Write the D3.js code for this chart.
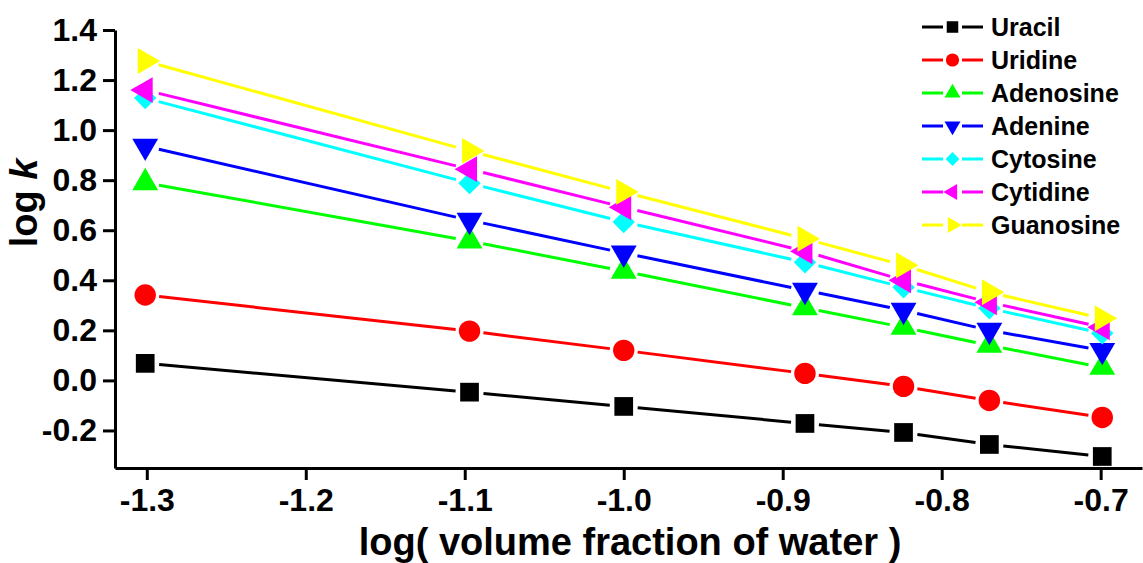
<!DOCTYPE html>
<html>
<head>
<meta charset="UTF-8">
<script src="https://cdn.jsdelivr.net/npm/d3@7/dist/d3.min.js"></script>
<style>
body { margin: 0; background: #fff; }
text { font-family: "Liberation Sans", Arial, sans-serif; font-weight: bold; fill: #000; }
</style>
</head>
<body>
<script>

// log(volume fraction of water): 0.05, 0.08, 0.10, 0.13, 0.15, 0.17, 0.20
var xvals = [-1.301, -1.097, -1.0, -0.886, -0.824, -0.770, -0.699];

var names = ["Uracil", "Uridine", "Adenosine", "Adenine", "Cytosine", "Cytidine", "Guanosine"];
var colors = ["#000000", "#ff0000", "#00ff00", "#0000ff", "#00ffff", "#ff00ff", "#ffff00"];

var uracil    = [0.068, -0.047, -0.104, -0.172, -0.208, -0.256, -0.304];
var uridine   = [0.341, 0.197, 0.120, 0.028, -0.024, -0.080, -0.148];
var adenosine = [0.790, 0.557, 0.436, 0.290, 0.212, 0.140, 0.052];
var adenine   = [0.936, 0.640, 0.509, 0.360, 0.280, 0.200, 0.120];
var cytosine  = [1.128, 0.788, 0.633, 0.472, 0.372, 0.288, 0.188];
var cytidine  = [1.160, 0.844, 0.692, 0.516, 0.400, 0.312, 0.212];
var guanosine = [1.276, 0.917, 0.753, 0.566, 0.460, 0.352, 0.248];

var series = [uracil, uridine, adenosine, adenine, cytosine, cytidine, guanosine];

var xticks = [-1.3, -1.2, -1.1, -1.0, -0.9, -0.8, -0.7];
var yticks = [-0.2, 0.0, 0.2, 0.4, 0.6, 0.8, 1.0, 1.2, 1.4];

var width = 1143, height = 563;

var svg = d3.select("body").append("svg")
    .attr("width", width)
    .attr("height", height);

var x = d3.scaleLinear().domain([-1.32, -0.674]).range([115, 1142]);
var y = d3.scaleLinear().domain([-0.35, 1.4]).range([468, 30]);

// marker shapes: [symbol type, rotation, size]
var shapes = [
    [d3.symbolSquare, 0, 350],
    [d3.symbolCircle, 0, 360],
    [d3.symbolTriangle, 0, 290],
    [d3.symbolTriangle, 180, 290],
    [d3.symbolSquare, 45, 250],
    [d3.symbolTriangle, -90, 290],
    [d3.symbolTriangle, 90, 290]
];

// axes
var xminor = d3.range(-1.3, -0.68, 0.05);
var yminor = d3.range(-0.3, 1.41, 0.1);
var fmt = function(d) { return d3.format(".1f")(d).replace("\u2212", "-"); };

var gx = svg.append("g").attr("transform", "translate(0," + y.range()[0] + ")");
gx.call(d3.axisBottom(x).tickValues(xminor).tickSize(7).tickSizeOuter(0).tickFormat(""));
gx.call(d3.axisBottom(x).tickValues(xticks).tickSize(12).tickSizeOuter(0).tickFormat(fmt));

var gy = svg.append("g").attr("transform", "translate(" + x.range()[0] + ",0)");
gy.call(d3.axisLeft(y).tickValues(yminor).tickSize(7).tickSizeOuter(0).tickFormat(""));
gy.call(d3.axisLeft(y).tickValues(yticks).tickSize(12).tickSizeOuter(0).tickFormat(fmt));

svg.selectAll(".domain").attr("stroke", "#000").attr("stroke-width", 3);
svg.selectAll(".tick line").attr("stroke", "#000").attr("stroke-width", 3);
svg.selectAll(".tick text")
    .style("font-size", "32px")
    .style("font-family", "'Liberation Sans', Arial, sans-serif")
    .style("font-weight", "bold")
    .attr("fill", "#000");
gx.selectAll(".tick text").attr("dy", "0.87em");
gy.selectAll(".tick text").attr("x", -18);

// series lines with gaps near markers
var gap = 14;
series.forEach(function(vals, s) {
    var g = svg.append("g");
    for (var i = 0; i < vals.length - 1; i++) {
        var x1 = x(xvals[i]), y1 = y(vals[i]), x2 = x(xvals[i + 1]), y2 = y(vals[i + 1]);
        var len = Math.hypot(x2 - x1, y2 - y1);
        var ux = (x2 - x1) / len, uy = (y2 - y1) / len;
        g.append("line")
            .attr("x1", x1 + ux * gap).attr("y1", y1 + uy * gap)
            .attr("x2", x2 - ux * gap).attr("y2", y2 - uy * gap)
            .attr("stroke", colors[s])
            .attr("stroke-width", 3);
    }
    var sh = shapes[s];
    g.selectAll("path.mk")
        .data(vals)
        .enter().append("path")
        .attr("class", "mk")
        .attr("d", d3.symbol().type(sh[0]).size(sh[2]))
        .attr("transform", function(d, i) {
            return "translate(" + x(xvals[i]) + "," + y(d) + ") rotate(" + sh[1] + ")";
        })
        .attr("fill", colors[s]);
});

// legend
var legend = svg.append("g");
names.forEach(function(name, s) {
    var ly = 27 + s * 33;
    var row = legend.append("g").attr("transform", "translate(922," + ly + ")");
    row.append("line").attr("x1", 0).attr("x2", 21).attr("y1", 0).attr("y2", 0)
        .attr("stroke", colors[s]).attr("stroke-width", 3);
    row.append("line").attr("x1", 40).attr("x2", 61).attr("y1", 0).attr("y2", 0)
        .attr("stroke", colors[s]).attr("stroke-width", 3);
    var sh = shapes[s];
    row.append("path")
        .attr("d", d3.symbol().type(sh[0]).size(sh[2] * 0.38))
        .attr("transform", "translate(30.5,0) rotate(" + sh[1] + ")")
        .attr("fill", colors[s]);
    row.append("text")
        .attr("x", 69)
        .attr("y", 9)
        .style("font-size", "25px")
        .text(name);
});

// axis titles
svg.append("text")
    .attr("x", 630)
    .attr("y", 555)
    .attr("text-anchor", "middle")
    .style("font-size", "38px")
    .text("log( volume fraction of water )");

var yt = svg.append("text")
    .attr("transform", "translate(37,203) rotate(-90)")
    .attr("text-anchor", "middle")
    .style("font-size", "38px");
yt.append("tspan").text("log ");
yt.append("tspan").style("font-style", "italic").text("k");

</script>
</body>
</html>
